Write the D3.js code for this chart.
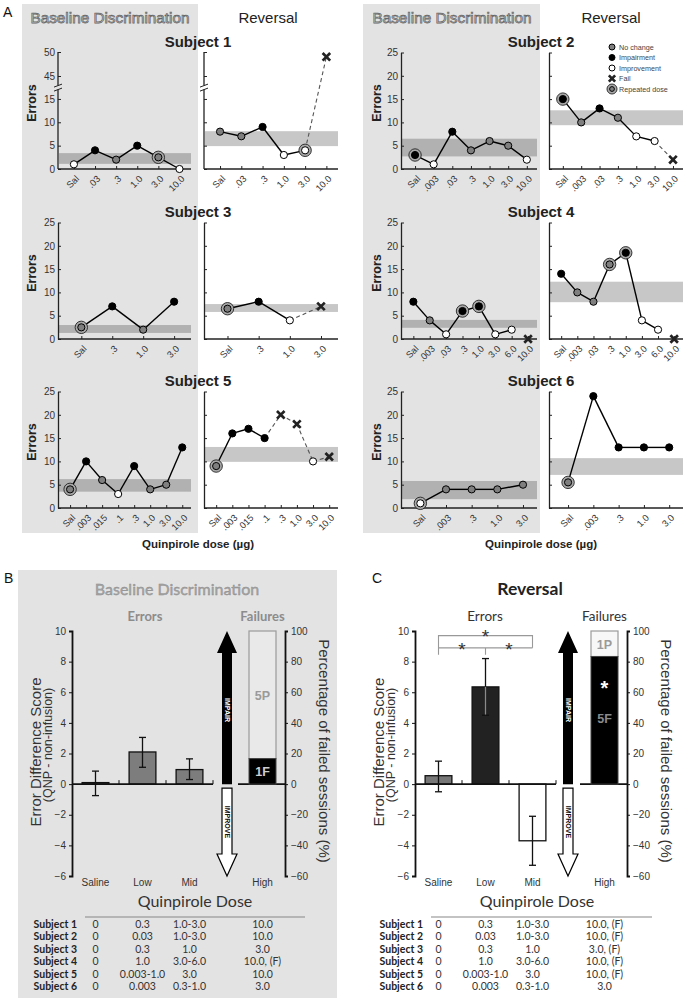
<!DOCTYPE html>
<html><head><meta charset="utf-8">
<script src="https://cdn.jsdelivr.net/npm/d3@7"></script>
<style>body{margin:0;background:#fff}svg{display:block}</style>
</head><body><svg id="c" width="685" height="1000"></svg>
<script>
// ---------------- DATA ----------------
// types: n = no change, i = impairment, v = improvement, f = fail ; links: s solid, d dashed, x none
const s1Doses = ["Sal",".03",".3","1.0","3.0","10.0"];
const s1BaseVal = [1,4,2,5,2.5,0];
const s1BaseType = ["v","i","n","i","n","v"];
const s1BaseRep = [0,0,0,0,1,0];
const s1BaseLink = ["s","s","s","s","s"];
const s1BaseBand = [1.1,3.4];
const s1RevVal = [8,7,9,3,4,49];
const s1RevType = ["n","n","i","v","v","f"];
const s1RevRep = [0,0,0,0,1,0];
const s1RevLink = ["s","s","s","s","d"];
const s1RevBand = [4.9,8.1];

const s2Doses = ["Sal",".003",".03",".3","1.0","3.0","10.0"];
const s2BaseVal = [3,1,8,4,6,5,2];
const s2BaseType = ["i","v","i","n","n","n","v"];
const s2BaseRep = [1,0,0,0,0,0,0];
const s2BaseLink = ["s","s","s","s","s","s"];
const s2BaseBand = [2.7,6.5];
const s2RevVal = [15,10,13,11,7,6,2];
const s2RevType = ["i","n","i","n","v","v","f"];
const s2RevRep = [1,0,0,0,0,0,0];
const s2RevLink = ["s","s","s","s","s","d"];
const s2RevBand = [9.4,12.6];

const s3Doses = ["Sal",".3","1.0","3.0"];
const s3BaseVal = [2.5,7,2,8];
const s3BaseType = ["n","i","n","i"];
const s3BaseRep = [1,0,0,0];
const s3BaseLink = ["s","s","s"];
const s3BaseBand = [1.3,3.0];
const s3RevVal = [6.5,8,4,7];
const s3RevType = ["n","i","v","f"];
const s3RevRep = [1,0,0,0];
const s3RevLink = ["s","s","d"];
const s3RevBand = [5.8,7.5];

const s4Doses = ["Sal",".003",".03",".3","1.0","3.0","6.0","10.0"];
const s4BaseVal = [8,4,1,6,7,1,2,0];
const s4BaseType = ["i","n","v","i","i","v","v","f"];
const s4BaseRep = [0,0,0,1,1,0,0,0];
const s4BaseLink = ["s","s","s","s","s","s","x"];
const s4BaseBand = [2.4,4.1];
const s4RevVal = [14,10,8,16,18.5,4,2,0];
const s4RevType = ["i","n","n","n","i","v","v","f"];
const s4RevRep = [0,0,0,1,1,0,0,0];
const s4RevLink = ["s","s","s","s","s","s","x"];
const s4RevBand = [7.9,12.3];

const s5Doses = ["Sal",".003",".015",".1",".3","1.0","3.0","10.0"];
const s5BaseVal = [4,10,6,3,9,4,5,13];
const s5BaseType = ["n","i","n","v","i","n","n","i"];
const s5BaseRep = [1,0,0,0,0,0,0,0];
const s5BaseLink = ["s","s","s","s","s","s","s"];
const s5BaseBand = [3.5,6.2];
const s5RevVal = [9,16,17,15,20,18,10,11];
const s5RevType = ["n","i","i","i","f","f","v","f"];
const s5RevRep = [1,0,0,0,0,0,0,0];
const s5RevLink = ["s","s","s","d","d","d","d"];
const s5RevBand = [9.9,13.1];

const s6Doses = ["Sal",".003",".3","1.0","3.0"];
const s6BaseVal = [1,4,4,4,5];
const s6BaseType = ["v","n","n","n","n"];
const s6BaseRep = [1,0,0,0,0];
const s6BaseLink = ["s","s","s","s"];
const s6BaseBand = [1.9,5.8];
const s6RevVal = [5.5,24,13,13,13];
const s6RevType = ["n","i","i","i","i"];
const s6RevRep = [1,0,0,0,0];
const s6RevLink = ["s","s","s","s"];
const s6RevBand = [7.1,10.7];

const yTicksNormal = [0,5,10,15,20,25];
const yTicksBroken = [0,5,10,15,45,50];
const legendLabels = ["No change","Impairment","Improvement","Fail","Repeated dose"];
const legendTypes = ["n","i","v","f","r"];

const groups = ["Saline","Low","Mid"];
const highLabel = "High";
const baseMean = [0.1, 2.1, 0.95];
const baseLo = [-0.75, 1.1, 0.3];
const baseHi = [0.85, 3.05, 1.65];
const revMean = [0.55, 6.35, -3.7];
const revLo = [-0.5, 4.5, -5.3];
const revHi = [1.5, 8.2, -2.1];
const baseFail = {F:1, P:5};
const revFail = {F:5, P:1};
const errTicks = [-6,-4,-2,0,2,4,6,8,10];
const pctTicks = [-60,-40,-20,0,20,40,60,80,100];

const tblSubjects = ["Subject 1","Subject 2","Subject 3","Subject 4","Subject 5","Subject 6"];
const baseTable = [
  ["0","0.3","1.0-3.0","10.0"],
  ["0","0.03","1.0-3.0","10.0"],
  ["0","0.3","1.0","3.0"],
  ["0","1.0","3.0-6.0","10.0, (F)"],
  ["0","0.003-1.0","3.0","10.0"],
  ["0","0.003","0.3-1.0","3.0"]];
const revTable = [
  ["0","0.3","1.0-3.0","10.0, (F)"],
  ["0","0.03","1.0-3.0","10.0, (F)"],
  ["0","0.3","1.0","3.0, (F)"],
  ["0","1.0","3.0-6.0","10.0, (F)"],
  ["0","0.003-1.0","3.0","10.0, (F)"],
  ["0","0.003","0.3-1.0","3.0"]];

// ---------------- DRAW ----------------
const svg = d3.select("#c");
const AR = "'Liberation Sans', Arial, sans-serif";
const CA = "Lato, 'Open Sans', sans-serif";
const BG = "#e3e3e3";

svg.append("rect").attr("x",22).attr("y",4).attr("width",176).attr("height",529).attr("fill",BG);
svg.append("rect").attr("x",363).attr("y",4).attr("width",177).attr("height",529).attr("fill",BG);
svg.append("rect").attr("x",18).attr("y",570).attr("width",319).attr("height",428).attr("fill",BG);

function txt(x,y,s,o={}){
  const t = svg.append("text").attr("x",x).attr("y",y).text(s)
    .attr("font-family",o.ff||AR).attr("font-size",o.fs||10)
    .attr("fill",o.fill||"#222").attr("text-anchor",o.anchor||"middle");
  if(o.fw) t.attr("font-weight",o.fw);
  if(o.rot) t.attr("transform",`rotate(${o.rot},${x},${y})`);
  if(o.stroke) t.attr("stroke",o.stroke).attr("stroke-width",o.sw||0.6);
  return t;
}

txt(3,17,"A",{anchor:"start",fs:14,fill:"#111"});
txt(4,583,"B",{anchor:"start",fs:14,fill:"#111"});
txt(372,583,"C",{anchor:"start",fs:14,fill:"#111"});

[[110,268],[452,611]].forEach(([bx,rx])=>{
  txt(bx,23,"Baseline Discrimination",{fs:15.3,fill:"#d2d2d2",stroke:"#666",sw:0.75});
  txt(rx,23,"Reversal",{fs:15,fill:"#222"});
});

const colsA = [
  {baseX:58, baseEnd:191, revX:204, revEnd:338, center:198, errX:36},
  {baseX:401, baseEnd:537, revX:549, revEnd:683, center:541, errX:381}
];
const rowsA = [169, 339, 508];

const subjects = [
  {title:"Subject 1", col:0,row:0, doses:s1Doses, broken:true,
   base:[s1BaseVal,s1BaseType,s1BaseRep,s1BaseLink,s1BaseBand], rev:[s1RevVal,s1RevType,s1RevRep,s1RevLink,s1RevBand]},
  {title:"Subject 2", col:1,row:0, doses:s2Doses, legend:true,
   base:[s2BaseVal,s2BaseType,s2BaseRep,s2BaseLink,s2BaseBand], rev:[s2RevVal,s2RevType,s2RevRep,s2RevLink,s2RevBand]},
  {title:"Subject 3", col:0,row:1, doses:s3Doses,
   base:[s3BaseVal,s3BaseType,s3BaseRep,s3BaseLink,s3BaseBand], rev:[s3RevVal,s3RevType,s3RevRep,s3RevLink,s3RevBand]},
  {title:"Subject 4", col:1,row:1, doses:s4Doses,
   base:[s4BaseVal,s4BaseType,s4BaseRep,s4BaseLink,s4BaseBand], rev:[s4RevVal,s4RevType,s4RevRep,s4RevLink,s4RevBand]},
  {title:"Subject 5", col:0,row:2, doses:s5Doses,
   base:[s5BaseVal,s5BaseType,s5BaseRep,s5BaseLink,s5BaseBand], rev:[s5RevVal,s5RevType,s5RevRep,s5RevLink,s5RevBand]},
  {title:"Subject 6", col:1,row:2, doses:s6Doses,
   base:[s6BaseVal,s6BaseType,s6BaseRep,s6BaseLink,s6BaseBand], rev:[s6RevVal,s6RevType,s6RevRep,s6RevLink,s6RevBand]}
];

const fillOf = {n:"#7f7f7f", i:"#000", v:"#fff"};

function marker(g,x,y,type,rep,r=3.6){
  if(rep){
    g.append("circle").attr("cx",x).attr("cy",y).attr("r",r+2.6)
      .attr("fill","#a8a8a8").attr("stroke","#222").attr("stroke-width",0.9);
  }
  if(type==="f"){
    const d=r*1.05;
    g.append("path").attr("d",`M${x-d},${y-d}L${x+d},${y+d}M${x-d},${y+d}L${x+d},${y-d}`)
      .attr("stroke","#222").attr("stroke-width",2.7).attr("fill","none");
  } else {
    g.append("circle").attr("cx",x).attr("cy",y).attr("r",r)
      .attr("fill",fillOf[type]).attr("stroke","#000").attr("stroke-width",1);
  }
}

function drawPlot(doses, data, ax, ae, y0, broken, labels){
  const [vals,types,reps,links,band] = data;
  const g = svg.append("g");
  let y;
  if(broken){
    y = d3.scaleLinear().domain([0,17,43,50]).range([y0, y0-79.4, y0-83.4, y0-117]);
  } else {
    y = d3.scaleLinear().domain([0,25]).range([y0, y0-116.5]);
  }
  const x = d3.scalePoint().domain(doses).range([ax,ae]).padding(0.65).align(0.58);
  g.append("rect").attr("x",ax+1).attr("width",ae-ax-1)
    .attr("y",y(band[1])).attr("height",y(band[0])-y(band[1]))
    .attr("fill","#000").attr("opacity",0.22);
  const ya = g.append("g").attr("transform",`translate(${ax},0)`)
    .call(d3.axisLeft(y).tickValues(broken?yTicksBroken:yTicksNormal).tickSize(-3).tickSizeOuter(0).tickPadding(3)
      .tickFormat(labels? d3.format("d") : ()=>""));
  ya.selectAll("text").attr("font-family",AR).attr("font-size",10).attr("fill","#333");
  ya.selectAll("line").attr("stroke","#222");
  ya.select(".domain").attr("stroke","#222").attr("stroke-width",1.3);
  if(broken){
    ya.select(".domain").remove();
    const yb = (y(17)+y(43))/2;
    g.append("line").attr("x1",ax).attr("x2",ax).attr("y1",y(0)).attr("y2",y(17)).attr("stroke","#222").attr("stroke-width",1.3);
    g.append("line").attr("x1",ax).attr("x2",ax).attr("y1",y(43)).attr("y2",y(50)).attr("stroke","#222").attr("stroke-width",1.3);
    [-2,2].forEach(o=>{
      g.append("line").attr("x1",ax-4).attr("x2",ax+4).attr("y1",yb+o+1.5).attr("y2",yb+o-1.5)
        .attr("stroke","#222").attr("stroke-width",1);
    });
  }
  const xa = g.append("g").attr("transform",`translate(0,${y0})`)
    .call(d3.axisBottom(x).tickSize(-3).tickSizeOuter(0).tickPadding(0));
  xa.select(".domain").attr("d",`M${ax},0H${ae}`).attr("stroke","#222").attr("stroke-width",1.3);
  xa.selectAll("line").attr("stroke","#222");
  xa.selectAll("text").attr("font-family",AR).attr("font-size",9.3).attr("fill","#333")
    .attr("text-anchor","end").attr("y",0).attr("dy","0.35em")
    .attr("transform","translate(3,8) rotate(-45)");
  for(let i=0;i<vals.length-1;i++){
    if(links[i]==="x") continue;
    const l = g.append("line").attr("x1",x(doses[i])).attr("y1",y(vals[i]))
      .attr("x2",x(doses[i+1])).attr("y2",y(vals[i+1]));
    if(links[i]==="s") l.attr("stroke","#000").attr("stroke-width",1.4);
    else l.attr("stroke","#555").attr("stroke-width",1.1).attr("stroke-dasharray","4,3");
  }
  vals.forEach((v,i)=> marker(g, x(doses[i]), y(v), types[i], reps[i]));
  return {x,y};
}

subjects.forEach(s=>{
  const c = colsA[s.col], y0 = rowsA[s.row];
  txt(c.center, y0-122, s.title, {fs:15, fw:"bold", fill:"#222"});
  drawPlot(s.doses, s.base, c.baseX, c.baseEnd, y0, s.broken, true);
  drawPlot(s.doses, s.rev, c.revX, c.revEnd, y0, s.broken, false);
  txt(c.errX, y0-66, "Errors", {fs:12.5, fw:"bold", rot:-90, fill:"#222"});
  if(s.legend){
    const lg = svg.append("g");
    legendLabels.forEach((lab,i)=>{
      const ly = 47 + i*10.5;
      if(legendTypes[i]==="r") marker(lg, 612, ly, "n", true, 2.4);
      else marker(lg, 612, ly, legendTypes[i], false, 3);
      lg.append("text").attr("x",619).attr("y",ly+2.6).text(lab)
        .attr("font-family",AR).attr("font-size",7.2).attr("fill","#444");
    });
  }
});
colsA.forEach(c=> txt(c.center, 548, "Quinpirole dose (µg)", {fs:11.5, fw:"bold", fill:"#222"}));

// ---------------- Panels B & C ----------------
function barPanel(o){
  const g = svg.append("g");
  const y = d3.scaleLinear().domain([-6,10]).range([876,631]);
  const yp = d3.scaleLinear().domain([-60,100]).range([876,631]);
  const x = d3.scaleBand().domain(groups).range([o.ax, o.ax+141]).paddingInner(0.43).paddingOuter(0.215);
  const fx0 = o.fx, fxc = o.fx+13.5;

  if(o.base){
    txt(o.titleX, 595, "Baseline Discrimination", {ff:CA, fs:16, fill:"#a6a6a6", stroke:"#8a8a8a", sw:0.4});
    txt(o.errLX, 621, "Errors", {ff:CA, fs:13, fw:"bold", fill:"#8c8c8c"});
    txt(fxc, 621, "Failures", {ff:CA, fs:13, fw:"bold", fill:"#8c8c8c"});
  } else {
    txt(o.titleX, 595, "Reversal", {ff:CA, fs:17.5, fw:"bold", fill:"#222"});
    txt(o.errLX, 621, "Errors", {ff:CA, fs:13.5, fill:"#333"});
    txt(fxc, 621, "Failures", {ff:CA, fs:13.5, fill:"#333"});
  }

  const la = g.append("g").attr("transform",`translate(${o.ax},0)`)
    .call(d3.axisLeft(y).tickValues(errTicks).tickSize(3).tickSizeOuter(3).tickPadding(3));
  const ra = g.append("g").attr("transform",`translate(${o.rx},0)`)
    .call(d3.axisRight(yp).tickValues(pctTicks).tickSize(3).tickSizeOuter(3).tickPadding(3));
  [la,ra].forEach(a=>{
    a.selectAll("text").attr("font-family",AR).attr("font-size",10).attr("fill","#333");
    a.selectAll("line").attr("stroke","#111");
    a.select(".domain").attr("stroke","#111").attr("stroke-width",1.8);
  });

  groups.forEach((gname,i)=>{
    const m = o.mean[i];
    g.append("rect").attr("x",x(gname)).attr("width",x.bandwidth())
      .attr("y",y(Math.max(0,m))).attr("height",Math.abs(y(m)-y(0)))
      .attr("fill",o.colors[i]).attr("stroke","#111").attr("stroke-width",1.3);
  });
  g.append("line").attr("x1",o.ax).attr("x2",o.ax+141).attr("y1",y(0)).attr("y2",y(0)).attr("stroke","#111").attr("stroke-width",1.6);
  g.append("line").attr("x1",o.rsx).attr("x2",o.rx).attr("y1",y(0)).attr("y2",y(0)).attr("stroke","#111").attr("stroke-width",1.6);
  [1,2,3].forEach(k=>{
    const bx = o.ax + k*x.step();
    g.append("line").attr("x1",bx).attr("x2",bx).attr("y1",y(0)).attr("y2",y(0)-4).attr("stroke","#111").attr("stroke-width",1);
  });
  groups.forEach((gname,i)=>{
    const cx = x(gname)+x.bandwidth()/2;
    const lo = o.lo[i], hi = o.hi[i], m = o.mean[i];
    const col = "#111";
    g.append("line").attr("x1",cx).attr("x2",cx).attr("y1",y(lo)).attr("y2",y(hi)).attr("stroke",col).attr("stroke-width",1.3);
    if(o.colors[i]==="#222"){
      g.append("line").attr("x1",cx).attr("x2",cx).attr("y1",y(lo)).attr("y2",y(m)).attr("stroke","#8a8a8a").attr("stroke-width",1.3);
    }
    [lo,hi].forEach(v=> g.append("line").attr("x1",cx-3.5).attr("x2",cx+3.5).attr("y1",y(v)).attr("y2",y(v)).attr("stroke",col).attr("stroke-width",1.3));
  });

  const axc = o.arx;
  const up = `M${axc-5},${y(0)}V${y(10)+22}H${axc-10}L${axc},${y(10)}L${axc+10},${y(10)+22}H${axc+5}V${y(0)}Z`;
  g.append("path").attr("d",up).attr("fill","#000");
  const dn = `M${axc-5},${y(0)+4}V${y(-6)-22}H${axc-10}L${axc},${y(-6)}L${axc+10},${y(-6)-22}H${axc+5}V${y(0)+4}Z`;
  g.append("path").attr("d",dn).attr("fill","#fff").attr("stroke","#000").attr("stroke-width",1.2);
  txt(axc-2.5, 710, "IMPAIR", {fs:7, fw:"bold", fill:"#fff", rot:90});
  txt(axc-2.5, 822, "IMPROVE", {fs:7, fw:"bold", fill:"#111", rot:90});

  const tot = o.fail.F + o.fail.P;
  const pF = o.fail.F/tot*100;
  g.append("rect").attr("x",fx0).attr("width",27).attr("y",yp(100)).attr("height",yp(pF)-yp(100))
    .attr("fill", o.base? "#e9e9e9" : "#f7f7f7").attr("stroke","#9a9a9a").attr("stroke-width",1.2);
  g.append("rect").attr("x",fx0).attr("width",27).attr("y",yp(pF)).attr("height",yp(0)-yp(pF))
    .attr("fill","#000").attr("stroke","#444").attr("stroke-width",1);
  const midP = (pF+100)/2, midF = pF/2;
  txt(fxc, yp(midP)+5, o.fail.P+"P", {fs:12.5, fw:"bold", fill:"#9a9a9a"});
  txt(fxc, yp(o.base? midF : 43)+5, o.fail.F+"F", {fs:12.5, fw:"bold", fill: o.base? "#cfcfcf" : "#8a8a8a"});
  if(!o.base) txt(fxc, yp(64)+9, "*", {fs:20, fw:"bold", fill:"#fff"});

  groups.forEach(gname=> txt(x(gname)+x.bandwidth()/2, 886, gname, {fs:10, fill:"#333"}));
  txt(fxc, 886, highLabel, {fs:10, fill:"#333"});
  txt(o.titleX + o.qdx, 907, "Quinpirole Dose", {ff:CA, fs:16, fill:"#333"});

  txt(o.ax-31, 752, "Error Difference Score", {fs:15, fill:"#333", rot:-90});
  txt(o.ax-20, 745, "(QNP  -  non-infusion)", {fs:12.5, fill:"#333", rot:-90});
  txt(o.rx+34, 751, "Percentage of failed sessions (%)", {fs:15, fill:"#333", rot:90});

  if(!o.base){
    const c0 = x(groups[0])+x.bandwidth()/2, c1 = x(groups[1])+x.bandwidth()/2, c2 = x(groups[2])+x.bandwidth()/2;
    const yt = y(9.7), yl = y(8.9), ytk = y(8.45);
    g.append("path").attr("d",`M${c0},${ytk}V${yt}H${c2}V${yl}M${c0},${yl}H${c2}M${c1},${yl}V${ytk}`)
      .attr("fill","none").attr("stroke","#999").attr("stroke-width",1.1);
    txt(c1, yt+7, "*", {fs:19, fill:"#333"});
    txt((c0+c1)/2, yl+8, "*", {fs:19, fill:"#333"});
    txt((c1+c2)/2, yl+8, "*", {fs:19, fill:"#333"});
  }

  g.append("line").attr("x1",o.tl0).attr("x2",o.tl1).attr("y1",917).attr("y2",917).attr("stroke","#888").attr("stroke-width",1.2);
  const colX = [x(groups[0])+x.bandwidth()/2, x(groups[1])+x.bandwidth()/2, x(groups[2])+x.bandwidth()/2, fxc];
  tblSubjects.forEach((sname,r)=>{
    const ty = 928 + r*12.4;
    txt(o.tlab, ty, sname, {ff:CA, fs:10.5, fw:"bold", fill:"#222", anchor:"end"});
    o.table[r].forEach((cell,k)=> txt(colX[k], ty, cell, {ff:CA, fs:10.5, fill:"#333"}));
  });
}

barPanel({base:true, ax:72, rx:285, rsx:238, fx:249, arx:227, titleX:177, errLX:145, qdx:18, tlab:77,
  mean:baseMean, lo:baseLo, hi:baseHi, colors:["#7d7d7d","#7d7d7d","#7d7d7d"], fail:baseFail,
  tl0:85, tl1:305, table:baseTable});
barPanel({base:false, ax:415, rx:627, rsx:580, fx:591, arx:568, titleX:530, errLX:485, qdx:7, tlab:423,
  mean:revMean, lo:revLo, hi:revHi, colors:["#777","#222","#fff"], fail:revFail,
  tl0:431, tl1:652, table:revTable});
</script></body></html>
